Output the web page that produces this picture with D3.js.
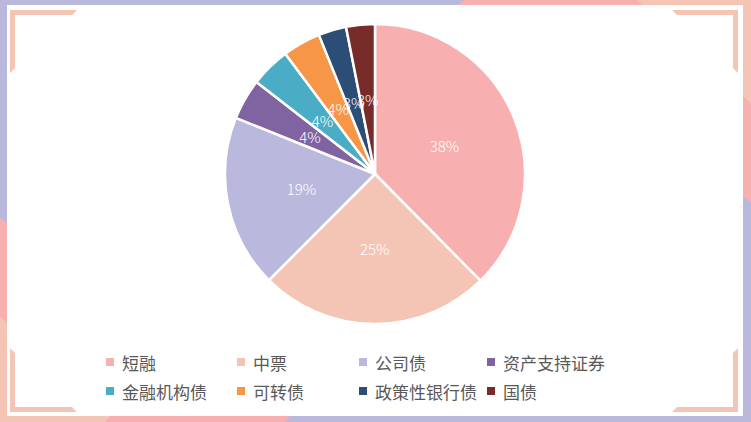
<!DOCTYPE html>
<html><head><meta charset="utf-8">
<script src="https://cdn.jsdelivr.net/npm/d3@7/dist/d3.min.js"></script>
<style>html,body{margin:0;padding:0;background:#fff;}svg{display:block;}</style>
</head><body><svg id="c" width="751" height="422"></svg>
<script>
const categories = ["短融","中票","公司债","资产支持证券","金融机构债","可转债","政策性银行债","国债"];
const values = [37.6, 24.9, 18.6, 4.4, 4.3, 4.1, 3.0, 3.1];
const colors = ["#F7AFAF","#F4C5B4","#BAB8DD","#8064A2","#4BACC6","#F79646","#2C4D75","#772C2A"];

const svg = d3.select("#c");
const W = 751, H = 422;
const lav = "#BAB8DD", pink = "#F7AFAF", peach = "#F4C5B4";

// decorative background
svg.append("rect").attr("width", W).attr("height", H).attr("fill", lav);
const poly = (pts, fill) => svg.append("polygon").attr("points", pts.map(p => p.join(",")).join(" ")).attr("fill", fill);
poly([[465,0],[751,0],[751,202],[600,100],[455,6]], pink);
poly([[637,0],[751,0],[751,104],[700,50],[643,6]], peach);
poly([[0,218],[60,260],[292,414],[285,422],[0,422]], pink);
poly([[0,317],[112,414],[105,422],[0,422]], peach);
svg.append("rect").attr("x", 7).attr("y", 5).attr("width", 736).attr("height", 411).attr("fill", "#fff");
poly([[10,10],[77,10],[72,15],[15,15],[15,68],[10,73]], peach);
poly([[738,10],[672,10],[677,15],[733,15],[733,68],[738,73]], peach);
poly([[10,412],[77,412],[72,407],[15,407],[15,353],[10,348]], peach);
poly([[738,412],[672,412],[677,407],[733,407],[733,353],[738,348]], peach);

// pie
const cx = 375, cy = 174, R = 150;
const data = categories.map((c, i) => ({cat: c, v: values[i], color: colors[i]}));
const pie = d3.pie().sort(null).value(d => d.v);
const arcs = pie(data);
const arc = d3.arc().innerRadius(0).outerRadius(R);
const g = svg.append("g").attr("transform", `translate(${cx},${cy})`);
g.selectAll("path").data(arcs).join("path")
  .attr("d", arc).attr("fill", d => d.data.color)
  .attr("stroke", "#fff").attr("stroke-width", 2.5).attr("stroke-linejoin", "round");
g.selectAll("text").data(arcs).join("text")
  .attr("transform", d => `translate(${arc.centroid(d)})`)
  .attr("text-anchor", "middle").attr("dominant-baseline", "central")
  .attr("fill", "#fff").attr("font-family", "'Noto Sans CJK SC','Noto Sans',sans-serif")
  .attr("font-weight", 300).attr("font-size", 15)
  .text(d => Math.round(d.data.v) + "%");

// legend
const colX = [106, 237, 359, 487];
const rowY = [362, 391];
const leg = svg.append("g");
data.forEach((d, i) => {
  const x = colX[i % 4], y = rowY[Math.floor(i / 4)];
  leg.append("rect").attr("x", x).attr("y", y - 4).attr("width", 8).attr("height", 8).attr("fill", d.color);
  leg.append("text").attr("x", x + 16).attr("y", y).attr("dominant-baseline", "central")
    .attr("font-family", "'Noto Sans CJK SC',sans-serif").attr("font-size", 17)
    .attr("fill", "#595959").text(d.cat);
});
</script></body></html>
